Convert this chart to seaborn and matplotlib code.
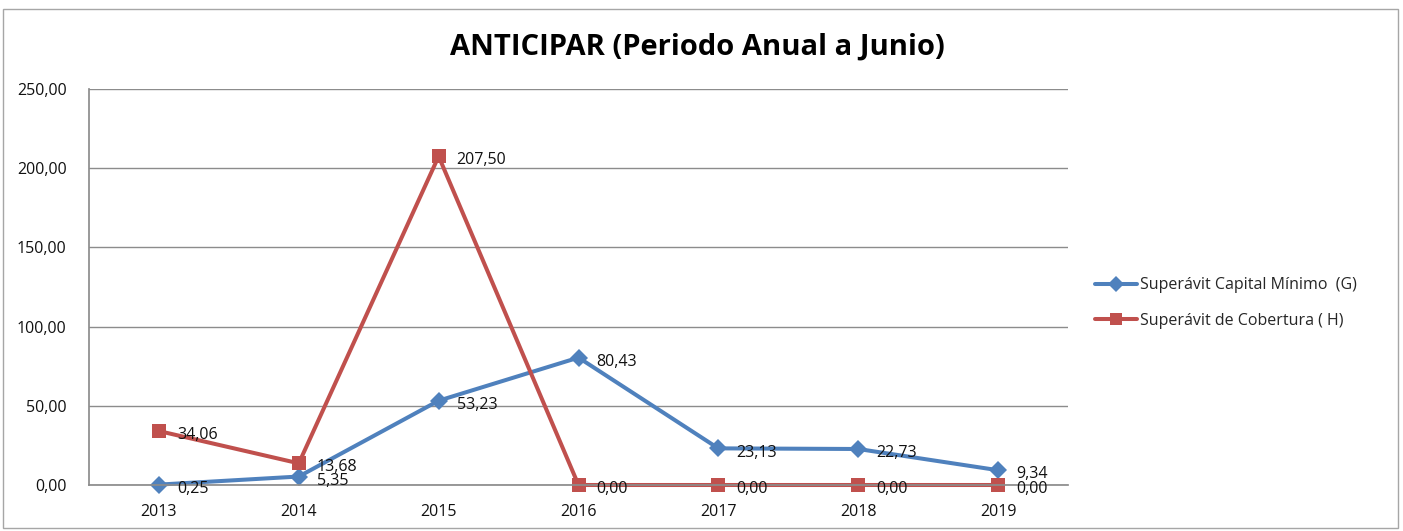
import matplotlib
matplotlib.use("Agg")
import matplotlib.pyplot as plt
import matplotlib.patches as mpatches
import numpy as np
import pandas as pd
import seaborn as sns

# data
years = ["2013", "2014", "2015", "2016", "2017", "2018", "2019"]
capital_minimo = [0.25, 5.35, 53.23, 80.43, 23.13, 22.73, 9.34]
cobertura = [34.06, 13.68, 207.50, 0.00, 0.00, 0.00, 0.00]
series_names = ["Superávit Capital Mínimo  (G)", "Superávit de Cobertura ( H)"]

BLUE = "#4F81BD"
RED = "#C0504D"

sns.set_theme(style="white")
plt.rcParams["font.family"] = ["Open Sans", "DejaVu Sans"]

df = pd.DataFrame({
    "year": years * 2,
    "value": capital_minimo + cobertura,
    "serie": [series_names[0]] * len(years) + [series_names[1]] * len(years),
})

fig = plt.figure(figsize=(14.03, 5.31), dpi=100)
ax = fig.add_axes([89 / 1403, 1 - 485 / 531, (1068 - 89) / 1403, (485 - 89) / 531])

sns.lineplot(data=df, x="year", y="value", hue="serie", style="serie",
             markers={series_names[0]: "D", series_names[1]: "s"},
             dashes=False, palette=[BLUE, RED], linewidth=2.9,
             markeredgewidth=0, ax=ax, sort=False, clip_on=False)
# marker sizes per series
ax.lines[0].set_markersize(9)
ax.lines[1].set_markersize(10.5)

# data labels
for vals in (capital_minimo, cobertura):
    for i, v in enumerate(vals):
        ax.annotate(f"{v:.2f}".replace(".", ","), (i, v), xytext=(13, -3),
                    textcoords="offset points", ha="left", va="center",
                    fontsize=11.5, color="#111111")

ax.set_xlim(-0.5, len(years) - 0.5)
ax.set_ylim(0, 250)
ax.set_yticks(np.arange(0, 251, 50))
ax.set_yticklabels([f"{t:.2f}".replace(".", ",") for t in np.arange(0, 251, 50)])
ax.yaxis.grid(True, color="#8c8c8c", linewidth=1)
ax.set_xlabel("")
ax.set_ylabel("")
ax.tick_params(axis="both", labelsize=11.5, length=0, colors="#111111")
ax.tick_params(axis="y", pad=16)
ax.tick_params(axis="x", pad=14)
for side in ("top", "right"):
    ax.spines[side].set_visible(False)
ax.spines["left"].set_color("#8c8c8c")
ax.spines["bottom"].set_color("#8c8c8c")

fig.text(0.497, 0.911, "ANTICIPAR (Periodo Anual a Junio)", ha="center", va="center",
         fontsize=21, fontweight="bold", color="black")

ax.legend(frameon=False, fontsize=11.5, handlelength=2.6, handletextpad=0.2,
          labelspacing=1.2, borderaxespad=0, borderpad=0,
          loc="center left", bbox_to_anchor=(1095 / 1403, 1 - 303 / 531),
          bbox_transform=fig.transFigure)
for h in ax.get_legend().legend_handles:
    h.set_markersize(8)

# outer chart border
fig.patches.append(mpatches.Rectangle((3 / 1403, 3 / 531), 1395 / 1403, 519 / 531,
                                      transform=fig.transFigure, fill=False,
                                      edgecolor="#a6a6a6", linewidth=1))

fig.savefig("out.png", dpi=100)
